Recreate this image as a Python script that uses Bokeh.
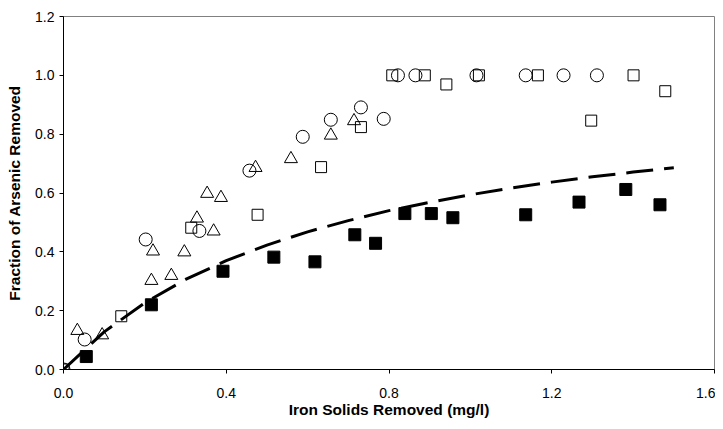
from bokeh.plotting import figure
from bokeh.models import FixedTicker, PrintfTickFormatter, Range1d
from bokeh.embed import file_html
from bokeh.resources import INLINE

# Open circles
circle_x = [0.0, 0.052, 0.202, 0.334, 0.457, 0.588, 0.657, 0.731, 0.787, 0.822, 0.865, 1.015, 1.136, 1.229, 1.311]
circle_y = [0.0, 0.102, 0.442, 0.471, 0.676, 0.791, 0.849, 0.891, 0.852, 1.0, 1.0, 1.0, 1.0, 1.0, 1.0]

# Open triangles
triangle_x = [0.034, 0.095, 0.216, 0.220, 0.265, 0.297, 0.328, 0.353, 0.369, 0.387, 0.472, 0.559, 0.657, 0.714]
triangle_y = [0.132, 0.117, 0.302, 0.402, 0.319, 0.399, 0.514, 0.598, 0.470, 0.584, 0.686, 0.716, 0.796, 0.845]

# Open squares
osq_x = [0.0, 0.142, 0.314, 0.477, 0.633, 0.731, 0.808, 0.888, 0.941, 1.021, 1.166, 1.297, 1.401, 1.479]
osq_y = [0.0, 0.181, 0.482, 0.526, 0.688, 0.824, 1.0, 1.0, 0.969, 1.0, 1.0, 0.846, 1.0, 0.946]

# Filled squares
fsq_x = [0.056, 0.216, 0.392, 0.517, 0.618, 0.716, 0.767, 0.839, 0.904, 0.957, 1.136, 1.267, 1.382, 1.466]
fsq_y = [0.044, 0.220, 0.334, 0.382, 0.366, 0.458, 0.429, 0.530, 0.530, 0.516, 0.526, 0.569, 0.612, 0.560]

# Dashed model curve
model_x = [0.0, 0.1, 0.2, 0.3, 0.4, 0.5, 0.6, 0.7, 0.8, 0.9, 1.0, 1.1, 1.2, 1.3, 1.4, 1.5]
model_y = [0.0, 0.128, 0.227, 0.306, 0.370, 0.423, 0.468, 0.506, 0.540, 0.568, 0.594, 0.617, 0.637, 0.655, 0.671, 0.686]

x_ticks = [0.0, 0.4, 0.8, 1.2, 1.6]
y_ticks = [0.0, 0.2, 0.4, 0.6, 0.8, 1.0, 1.2]

FONT = "Liberation Sans"

p = figure(width=715, height=421, output_backend="svg", toolbar_location=None,
           x_range=Range1d(0, 1.6), y_range=Range1d(0, 1.2),
           min_border_left=63, min_border_right=1, min_border_top=16, min_border_bottom=52)

p.xgrid.visible = False
p.ygrid.visible = False
p.background_fill_color = "white"
p.border_fill_color = "white"
p.outline_line_color = "#808080"
p.outline_line_width = 1

for ax in (p.xaxis[0], p.yaxis[0]):
    ax.axis_line_color = "black"
    ax.axis_line_width = 1
    ax.major_tick_line_color = "black"
    ax.major_tick_in = 0
    ax.major_tick_out = 4
    ax.minor_tick_line_color = None
    ax.major_label_text_font = FONT
    ax.major_label_text_font_size = "14px"
    ax.major_label_text_color = "black"
    ax.axis_label_text_font = FONT
    ax.axis_label_text_font_size = "15.5px"
    ax.axis_label_text_font_style = "bold"
    ax.axis_label_text_color = "black"
    ax.formatter = PrintfTickFormatter(format="%.1f")

p.xaxis[0].ticker = FixedTicker(ticks=x_ticks)
p.yaxis[0].ticker = FixedTicker(ticks=y_ticks)
p.xaxis[0].axis_label = "Iron Solids Removed (mg/l)"
p.yaxis[0].axis_label = "Fraction of Arsenic Removed"
p.xaxis[0].major_label_standoff = 14
p.yaxis[0].major_label_standoff = 5
p.xaxis[0].axis_label_standoff = 0
p.yaxis[0].axis_label_standoff = 9

p.line(model_x, model_y, line_color="black", line_width=3, line_dash="27 11")

p.scatter(fsq_x, fsq_y, marker="square", size=12, fill_color="black", line_color="black")
p.scatter(osq_x, osq_y, marker="square", size=11, fill_color=None, line_color="black", line_width=1)
p.scatter(circle_x, circle_y, marker="circle", size=13, fill_color=None, line_color="black", line_width=1)
p.scatter(triangle_x, triangle_y, marker="triangle", size=13, fill_color=None, line_color="black", line_width=1)

open("out.html", "w").write(file_html(p, INLINE))
